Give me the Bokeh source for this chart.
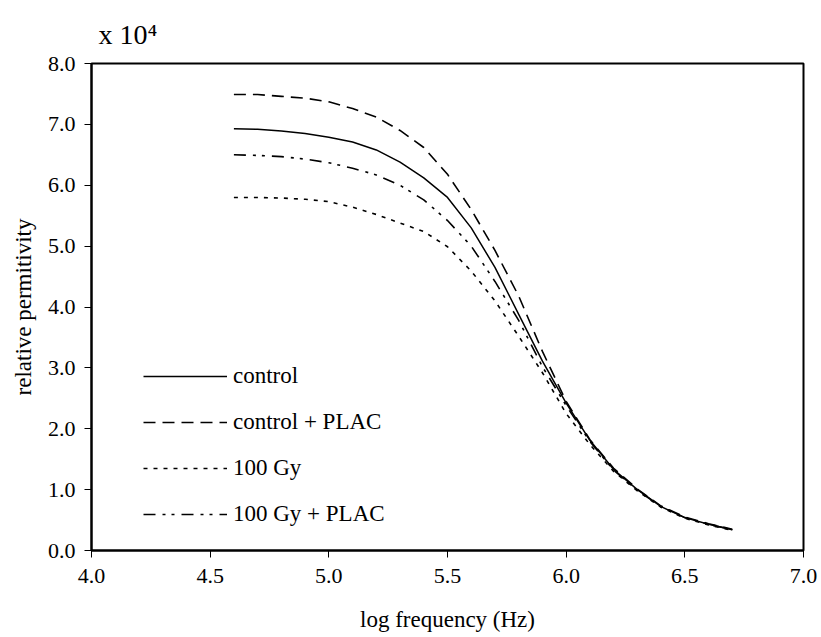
from bokeh.plotting import figure
from bokeh.models import (Range1d, FixedTicker, NumeralTickFormatter, Legend,
                          LegendItem, ColumnDataSource, Title)
from bokeh.embed import file_html
from bokeh.resources import INLINE

# ---- data (log frequency in Hz, relative permittivity in units of 1e4) ----
log_freq = [4.6, 4.7, 4.8, 4.9, 5.0, 5.1, 5.2, 5.3, 5.4, 5.5, 5.6,
            5.7, 5.8, 5.9, 6.0, 6.1, 6.2, 6.3, 6.4, 6.5, 6.6, 6.7]
control = [6.93, 6.92, 6.89, 6.85, 6.79, 6.71, 6.58, 6.38, 6.12, 5.80, 5.30,
           4.65, 3.88, 3.11, 2.42, 1.81, 1.33, 1.00, 0.72, 0.54, 0.43, 0.34]
control_plac = [7.49, 7.49, 7.46, 7.43, 7.37, 7.26, 7.12, 6.90, 6.62, 6.18, 5.60,
                4.93, 4.18, 3.27, 2.45, 1.82, 1.35, 1.01, 0.73, 0.55, 0.44, 0.35]
gy100 = [5.80, 5.80, 5.79, 5.77, 5.73, 5.64, 5.52, 5.38, 5.24, 4.99, 4.59,
         4.10, 3.52, 2.92, 2.25, 1.74, 1.30, 0.98, 0.71, 0.53, 0.42, 0.33]
gy100_plac = [6.50, 6.49, 6.47, 6.43, 6.37, 6.28, 6.17, 6.00, 5.76, 5.42, 5.00,
              4.42, 3.78, 3.02, 2.38, 1.79, 1.32, 0.99, 0.72, 0.54, 0.43, 0.34]

series_names = ["control", "control + PLAC", "100 Gy", "100 Gy + PLAC"]
x_ticks = [4.0, 4.5, 5.0, 5.5, 6.0, 6.5, 7.0]
y_ticks = [0, 1, 2, 3, 4, 5, 6, 7, 8]

FONT = "Liberation Serif"

p = figure(width=821, height=637, output_backend="svg", toolbar_location=None,
           x_range=Range1d(4.0, 7.0), y_range=Range1d(0.0, 8.0))
p.min_border_left = 91
p.min_border_right = 18
p.min_border_top = 63
p.min_border_bottom = 87
p.background_fill_color = "white"
p.border_fill_color = "white"
p.outline_line_color = "black"
p.outline_line_width = 2
p.xgrid.visible = False
p.ygrid.visible = False

for ax in (p.xaxis[0], p.yaxis[0]):
    ax.axis_line_width = 2
    ax.axis_line_color = "black"
    ax.major_tick_line_color = "black"
    ax.major_tick_line_width = 1
    ax.major_tick_out = 7
    ax.major_tick_in = 0
    ax.minor_tick_line_color = None
    ax.formatter = NumeralTickFormatter(format="0.0")
    ax.major_label_text_font = FONT
    ax.major_label_text_font_size = "22px"
    ax.major_label_text_color = "black"
    ax.axis_label_text_font = FONT
    ax.axis_label_text_font_size = "23px"
    ax.axis_label_text_font_style = "normal"
    ax.axis_label_text_color = "black"

p.xaxis[0].ticker = FixedTicker(ticks=x_ticks)
p.yaxis[0].ticker = FixedTicker(ticks=y_ticks)
p.xaxis[0].axis_label = "log frequency (Hz)"
p.yaxis[0].axis_label = "relative permitivity"
p.xaxis[0].major_label_standoff = 11
p.xaxis[0].axis_label_standoff = 21
p.yaxis[0].major_label_standoff = 9
p.yaxis[0].axis_label_standoff = 9

styles = [
    dict(line_dash="solid", line_width=1.5),
    dict(line_dash="12 7", line_width=1.6),
    dict(line_dash="4 6", line_width=1.6),
    dict(line_dash="12 7 3 6 3 7", line_width=1.6),
]
values = [control, control_plac, gy100, gy100_plac]

items = []
for name, vals, st in zip(series_names, values, styles):
    src = ColumnDataSource(dict(x=log_freq, y=vals))
    r = p.line("x", "y", source=src, line_color="black", **st)
    items.append(LegendItem(label=name, renderers=[r]))

legend = Legend(items=items, location=(52, 23), orientation="vertical",
                glyph_width=84, glyph_height=24, label_height=24,
                label_standoff=6, spacing=20, padding=0, margin=0,
                label_text_font=FONT, label_text_font_size="23px",
                label_text_color="black",
                border_line_alpha=0, background_fill_alpha=0)
p.add_layout(legend, "center")

# multiplier note above the plot area
p.title = Title(text="x 10\u2074", text_font=FONT, text_font_size="28px",
                text_font_style="normal", text_color="black",
                align="left", offset=7, standoff=28)

open("out.html", "w").write(file_html(p, INLINE))
